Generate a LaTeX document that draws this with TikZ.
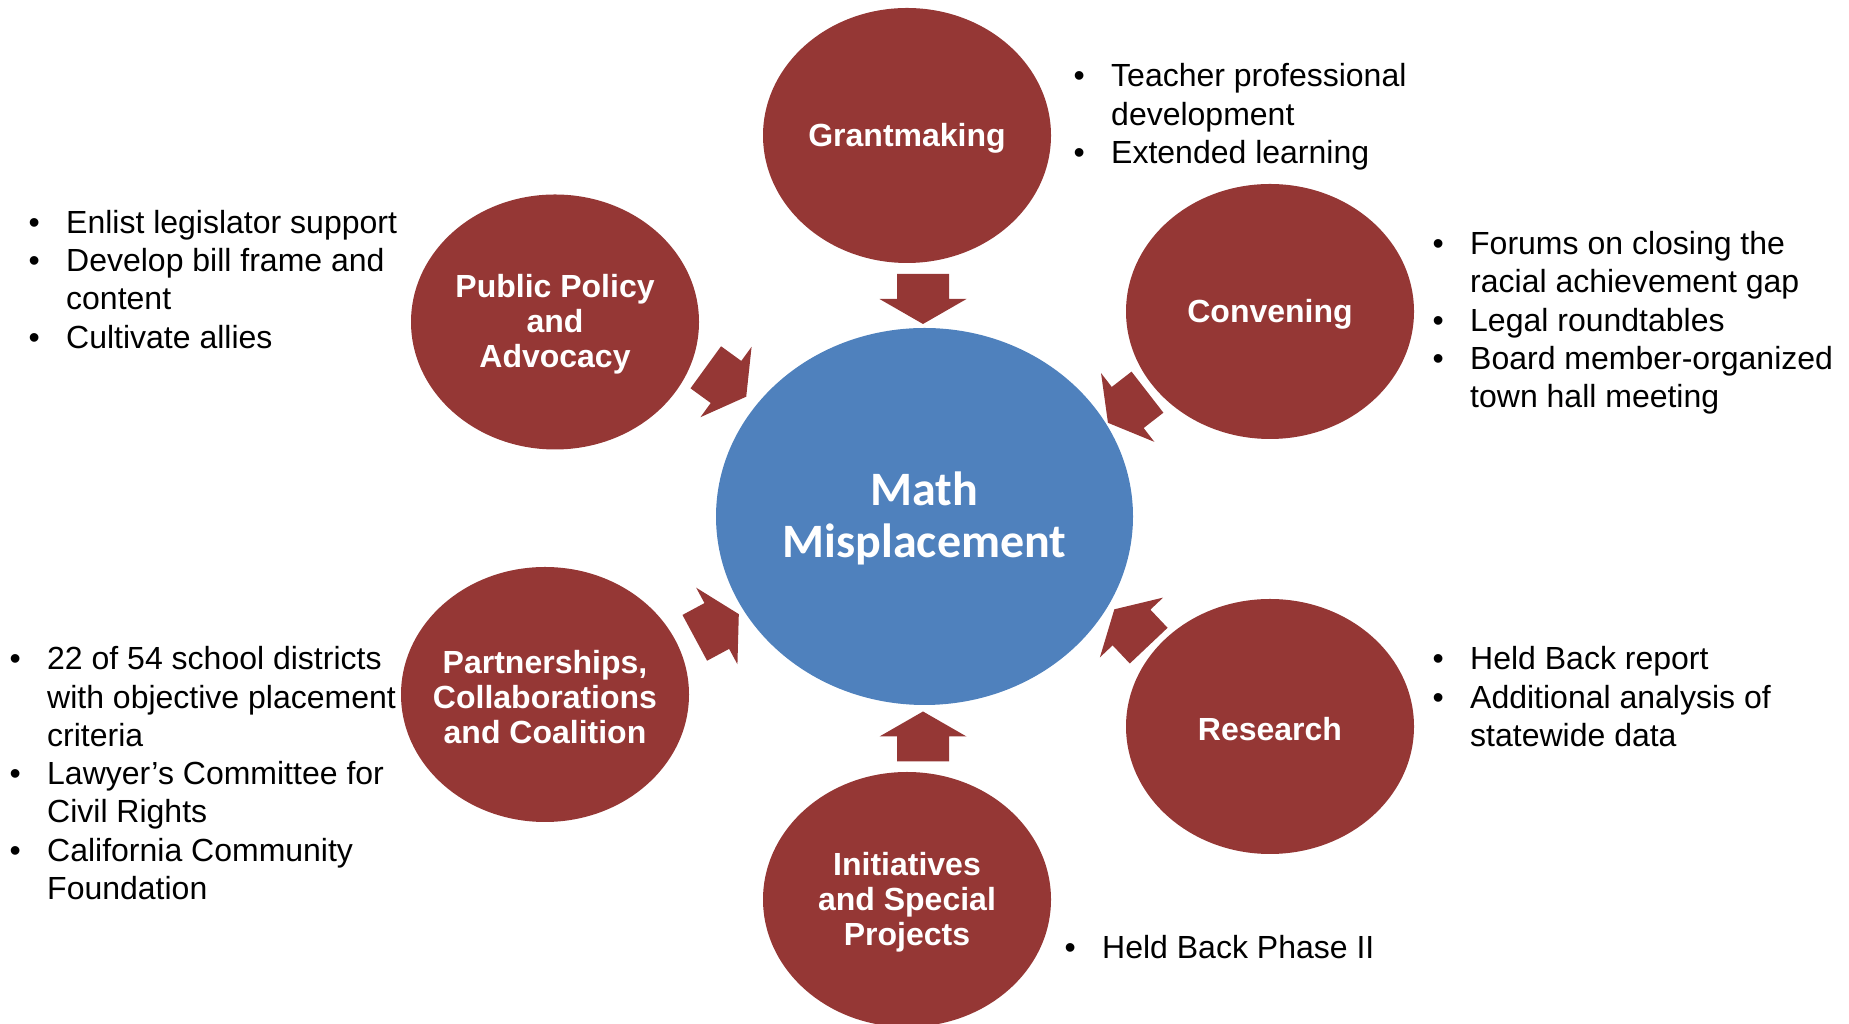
\documentclass[tikz,border=0pt]{standalone}
\usepackage{fontspec}
\usetikzlibrary{shapes.geometric}
\setmainfont{Liberation Sans}
\newfontfamily\hubfont{Carlito}

\definecolor{bubblered}{RGB}{149,55,53}
\definecolor{hubblue}{RGB}{79,129,189}

% hanging bullet and the indent of a continued line
\newcommand\bul{\strut\makebox[37.5pt][l]{\textbullet}}
\newcommand\cont{\hspace*{37.5pt}}

\tikzset{
  bubble/.style={ellipse, fill=bubblered, minimum width=288pt, minimum height=255pt, inner sep=0pt},
  bubbletext/.style={text=white, align=center, inner sep=0pt, yshift=-2.5pt, font=\bfseries\fontsize{32}{35}\selectfont},
  bullets/.style={anchor=north west, inner sep=0pt, align=left, font=\fontsize{32}{38.3}\selectfont},
  blockarrow/.pic={
    \fill[bubblered] (-25,-26) -- (0,-26) -- (0,-43.5) -- (25,0) -- (0,43.5) -- (0,26) -- (-25,26) -- cycle;
  }
}

\begin{document}
\begin{tikzpicture}[x=1pt,y=1pt]
\useasboundingbox (0,0) rectangle (1849,1024);

% the centre
\node[ellipse, fill=hubblue, minimum width=417pt, minimum height=377pt, inner sep=0pt] (hub) at (924.5,507.5) {};
\node[text=white, align=center, inner sep=0pt, yshift=-1.5pt, font=\hubfont\bfseries\fontsize{48}{52}\selectfont] (hub-label) at (hub) {Math\\Misplacement};

% six bubbles round it
\node[bubble] (grant) at (907,888.5) {};
\node[bubble] (conv) at (1270,712.5) {};
\node[bubble] (policy) at (555,702) {};
\node[bubble] (partner) at (545,329.5) {};
\node[bubble] (research) at (1270,297.5) {};
\node[bubble] (init) at (907,124.5) {};

\node[bubbletext] (grant-label) at (grant) {Grantmaking};
\node[bubbletext] (conv-label) at (conv) {Convening};
\node[bubbletext] (policy-label) at (policy) {Public Policy\\and\\Advocacy};
\node[bubbletext] (partner-label) at (partner) {Partnerships,\\Collaborations\\and Coalition};
\node[bubbletext] (research-label) at (research) {Research};
\node[bubbletext] (init-label) at (init) {Initiatives\\and Special\\Projects};

% block arrows pointing in
\pic (grant-arrow) [rotate=-90] at (923,725) {blockarrow};
\pic (init-arrow) [rotate=90] at (923,287.5) {blockarrow};
\pic (policy-arrow) [rotate=-36] at (726,642) {blockarrow};
\pic (conv-arrow) [rotate=-142.2] at (1127.7,616.5) {blockarrow};
\pic (partner-arrow) [rotate=28.3] at (716.8,398) {blockarrow};
\pic (research-arrow) [rotate=133.4] at (1131.5,396.5) {blockarrow};

% notes beside each bubble
\node[bullets] (grant-notes) at (1073.5,964) {\bul Teacher professional\\\cont development\\\bul Extended learning};
\node[bullets] (policy-notes) at (28.5,817.8) {\bul Enlist legislator support\\\bul Develop bill frame and\\\cont content\\\bul Cultivate allies};
\node[bullets] (conv-notes) at (1432.5,796.3) {\bul Forums on closing the\\\cont racial achievement gap\\\bul Legal roundtables\\\bul Board member-organized\\\cont town hall meeting};
\node[bullets] (partner-notes) at (9.5,381.3) {\bul 22 of 54 school districts\\\cont with objective placement\\\cont criteria\\\bul Lawyer’s Committee for\\\cont Civil Rights\\\bul California Community\\\cont Foundation};
\node[bullets] (research-notes) at (1432.5,381.3) {\bul Held Back report\\\bul Additional analysis of\\\cont statewide data};
\node[bullets] (init-notes) at (1064.5,92.3) {\bul Held Back Phase II};

\end{tikzpicture}
\end{document}
